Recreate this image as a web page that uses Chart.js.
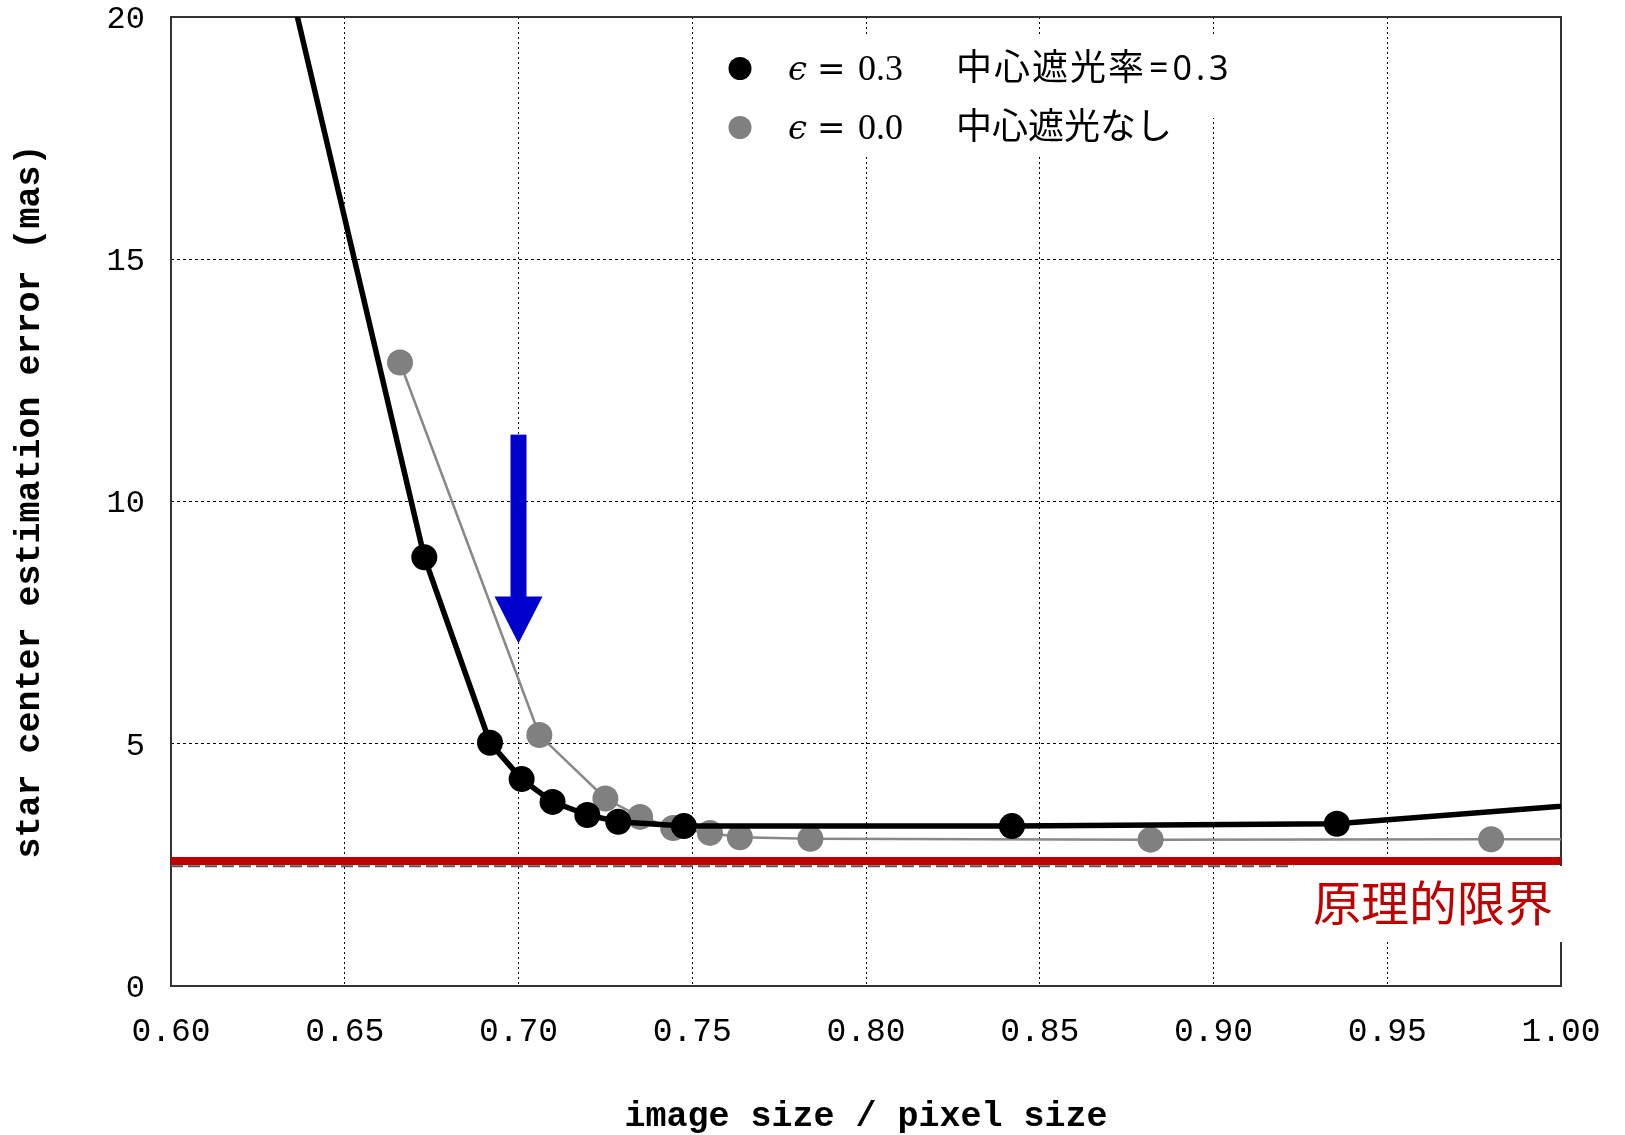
<!DOCTYPE html>
<html>
<head>
<meta charset="utf-8">
<script src="https://cdn.jsdelivr.net/npm/chart.js@4.4.0/dist/chart.umd.min.js"></script>
<style>
html,body{margin:0;padding:0;background:#fff;}
#wrap{width:1625px;height:1135px;position:relative;}
</style>
</head>
<body>
<div id="wrap"><canvas id="c" width="1625" height="1135"></canvas></div>
<script>
// ---- data ----
const xTicks = [0.60, 0.65, 0.70, 0.75, 0.80, 0.85, 0.90, 0.95, 1.00];
const yTicks = [0, 5, 10, 15, 20];

// epsilon = 0.3 (black)
const blackX = [0.630, 0.6729, 0.6918, 0.7009, 0.7098, 0.7198, 0.7287, 0.7476, 0.8420, 0.9355, 1.030];
const blackY = [21.95, 8.85, 5.02, 4.27, 3.80, 3.53, 3.39, 3.30, 3.30, 3.35, 3.88];

// epsilon = 0.0 (gray)
const grayX = [0.6659, 0.7060, 0.7250, 0.7350, 0.7445, 0.7551, 0.7637, 0.7840, 0.8819, 0.9799, 1.080];
const grayY = [12.87, 5.18, 3.87, 3.49, 3.26, 3.16, 3.07, 3.04, 3.02, 3.03, 3.03];

// theoretical limit (red) and the dashed line under it
const limitX = [0.60, 1.00];
const limitY = [2.58, 2.58];
const dashX = [0.60, 0.923];
const dashY = [2.47, 2.47];

// blue arrow (x, from y, to y)
const arrowX = 0.70;
const arrowFromY = 11.38;
const arrowToY = 7.07;

// texts
const xTitle = 'image size / pixel size';
const yTitle = 'star center estimation error (mas)';
const legendRows = [
  {sym: 'ϵ', eq: '=', val: '0.3', jp: '中心遮光率', jpTail: '=0.3', color: '#000000'},
  {sym: 'ϵ', eq: '=', val: '0.0', jp: '中心遮光なし', jpTail: '', color: '#808080'}
];
const limitLabel = '原理的限界';
const limitLabelY = 1.71;

const pts = (xs, ys) => xs.map((x, i) => ({x: x, y: ys[i]}));

const decor = {
  id: 'decor',
  beforeDatasetsDraw(chart) {
    const ctx = chart.ctx, a = chart.chartArea;
    ctx.save();
    ctx.strokeStyle = '#333';
    ctx.lineWidth = 2;
    ctx.strokeRect(a.left, a.top, a.right - a.left, a.bottom - a.top);
    ctx.restore();
  },
  afterDatasetsDraw(chart) {
    const ctx = chart.ctx, a = chart.chartArea;
    const xs = chart.scales.x, ys = chart.scales.y;
    ctx.save();
    // legend background
    ctx.fillStyle = '#fff';
    ctx.fillRect(700, 36, 535, 82);
    ctx.fillRect(700, 117, 480, 38);
    const rowY = [80, 139];
    const dotY = [68.5, 127.5];
    legendRows.forEach((r, i) => {
      ctx.fillStyle = r.color;
      ctx.beginPath();
      ctx.arc(740, dotY[i], 11.5, 0, Math.PI * 2);
      ctx.fill();
      ctx.fillStyle = '#000';
      ctx.textBaseline = 'alphabetic';
      ctx.textAlign = 'left';
      ctx.font = 'italic 34px "DejaVu Serif"';
      ctx.fillText(r.sym, 788, rowY[i]);
      ctx.font = '34px "DejaVu Serif"';
      ctx.fillText(r.eq, 817, rowY[i]);
      ctx.font = '36px "Liberation Serif"';
      ctx.fillText(r.val, 858, rowY[i]);
      ctx.font = '36px "Noto Sans CJK JP"';
      if (r.jpTail) {
        ctx.letterSpacing = '2px';
        ctx.fillText(r.jp, 956, rowY[i]);
        ctx.font = '34px "Noto Sans"';
        ctx.letterSpacing = '4px';
        ctx.fillText(r.jpTail, 1149, rowY[i]);
        ctx.letterSpacing = '0px';
      } else {
        ctx.fillText(r.jp, 956, rowY[i]);
      }
    });
    // limit label with white background
    const ly = ys.getPixelForValue(limitLabelY);
    ctx.fillStyle = '#fff';
    ctx.fillRect(1300, 866, 275, 76);
    ctx.fillStyle = '#c00000';
    ctx.font = '48px "Noto Sans CJK JP"';
    ctx.textAlign = 'right';
    ctx.textBaseline = 'middle';
    ctx.fillText(limitLabel, a.right - 8, ly);
    // blue arrow
    const cx = xs.getPixelForValue(arrowX);
    const y0 = ys.getPixelForValue(arrowFromY);
    const y1 = ys.getPixelForValue(arrowToY);
    const headL = 47, headW = 48, shaftW = 16;
    ctx.fillStyle = '#0000cc';
    ctx.fillRect(cx - shaftW / 2, y0, shaftW, (y1 - headL) - y0 + 1);
    ctx.beginPath();
    ctx.moveTo(cx - headW / 2, y1 - headL);
    ctx.lineTo(cx + headW / 2, y1 - headL);
    ctx.lineTo(cx, y1);
    ctx.closePath();
    ctx.fill();
    ctx.restore();
  }
};

const zeroPad = s => { s.paddingTop = 0; s.paddingBottom = 0; s.paddingLeft = 0; s.paddingRight = 0; };

new Chart(document.getElementById('c'), {
  type: 'line',
  data: {
    datasets: [
      {data: pts(blackX, blackY), borderColor: '#000', backgroundColor: '#000', borderWidth: 5.5,
       pointRadius: 13, pointBorderWidth: 0, pointBackgroundColor: '#000', clip: 0},
      {data: pts(grayX, grayY), borderColor: '#888', backgroundColor: '#808080', borderWidth: 2.5,
       pointRadius: 13, pointBorderWidth: 0, pointBackgroundColor: '#808080', clip: 0},
      {data: pts(limitX, limitY), borderColor: '#c00000', borderWidth: 8, pointRadius: 0, clip: 0},
      {data: pts(dashX, dashY), borderColor: '#555', borderWidth: 2, borderDash: [12, 5], pointRadius: 0, clip: 0}
    ]
  },
  options: {
    responsive: false,
    animation: false,
    devicePixelRatio: 1,
    layout: {padding: {top: 17, right: 64, bottom: 0, left: 0}},
    plugins: {legend: {display: false}, tooltip: {enabled: false}},
    elements: {line: {tension: 0}},
    scales: {
      x: {
        type: 'linear', min: 0.6, max: 1.0,
        afterFit: s => { s.height = 149; zeroPad(s); },
        afterBuildTicks: s => { s.ticks = xTicks.map(v => ({value: v})); },
        ticks: {
          callback: v => Number(v).toFixed(2),
          font: {family: '"Liberation Mono"', size: 33, lineHeight: 1},
          color: '#000', padding: 30, maxRotation: 0, autoSkip: false
        },
        grid: {color: '#000', lineWidth: 1, drawTicks: false},
        border: {display: false, dash: [2, 3]},
        title: {display: true, text: xTitle, color: '#000',
                font: {family: '"Liberation Mono"', size: 35, weight: 'bold', lineHeight: 1},
                padding: {top: 0, bottom: 0}}
      },
      y: {
        type: 'linear', min: 0, max: 20,
        afterFit: s => { s.width = 171; zeroPad(s); },
        afterBuildTicks: s => { s.ticks = yTicks.map(v => ({value: v})); },
        ticks: {
          callback: v => String(v),
          font: {family: '"Liberation Mono"', size: 32, lineHeight: 1},
          color: '#000', padding: 26, labelOffset: 2.5
        },
        grid: {color: '#000', lineWidth: 1, drawTicks: false},
        border: {display: false, dash: [3, 3]},
        title: {display: true, text: yTitle, color: '#000',
                font: {family: '"Liberation Mono"', size: 35, weight: 'bold', lineHeight: 1},
                padding: {top: 13, bottom: 0}}
      }
    }
  },
  plugins: [decor]
});
</script>
</body>
</html>
